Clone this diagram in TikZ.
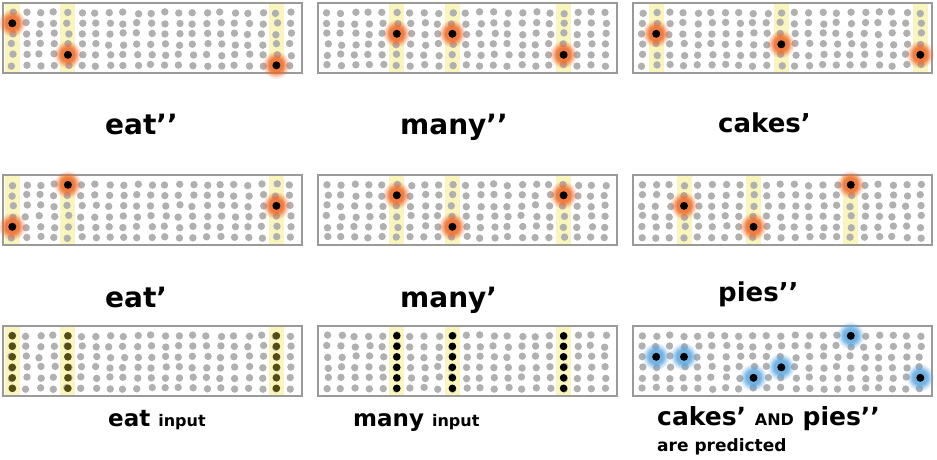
\documentclass[tikz,border=0pt]{standalone}
\usepackage{fontspec}
\setmainfont{DejaVu Sans}
\usetikzlibrary{positioning}
\definecolor{framegray}{HTML}{9A9A9A}
\definecolor{dotgray}{HTML}{B0B0B0}
\definecolor{lemon}{HTML}{FAF5BC}
\definecolor{ember}{HTML}{F06A2C}
\definecolor{skyglow}{HTML}{5BA6E0}
\definecolor{oliveink}{HTML}{544C10}

\begin{document}
\begin{tikzpicture}[x=1pt, y=-1pt,
        word/.style={font=\bfseries\fontsize{28}{30}\selectfont, inner sep=0pt, anchor=base west},
        small/.style={font=\bfseries\fontsize{23}{26}\selectfont, inner sep=0pt, anchor=base west}]
        \useasboundingbox (0,0) rectangle (937,459);
        \pgfmathsetseed{17}

        % highlighted columns of each panel
        \foreach \L/\T/\cols in {3/3/{0,4,19}, 318/3/{5,9,17}, 633/3/{1,10,20},
                                  3/175/{0,4,19}, 318/175/{5,9,17}, 633/175/{3,8,15},
                                  3/326/{0,4,19}, 318/326/{5,9,17}} {
            \foreach \c in \cols {
                \fill[lemon] (\L+9.3+13.9*\c-7.5, \T) rectangle ++(15, 70);
            }
        }

        % frames and grids of dots
        \foreach \L in {3, 318, 633} {
            \foreach \T in {3, 175, 326} {
                \draw[framegray, line width=1.2pt] (\L,\T) rectangle ++(299,70);
                \foreach \c in {0,...,20} {
                    \foreach \r in {0,...,5} {
                        \pgfmathsetmacro\jx{\L+9.3+13.9*\c+1.2*rand}
                        \pgfmathsetmacro\jy{\T+9.8+10.5*\r+1.0*rand}
                        \fill[dotgray] (\jx,\jy) circle (3.7pt);
                    }
                }
            }
        }

        % input columns
        \foreach \c in {0,4,19} {
            \foreach \r in {0,...,5} {
                \fill[oliveink] (3+9.3+13.9*\c, 326+9.8+10.5*\r) circle (3.8pt);
            }
        }
        \foreach \c in {5,9,17} {
            \foreach \r in {0,...,5} {
                \fill (318+9.3+13.9*\c, 326+9.8+10.5*\r) circle (3.8pt);
            }
        }

        % active cells
        \foreach \L/\T/\c/\r/\tone in {3/3/0/1/ember, 3/3/4/4/ember, 3/3/19/5/ember,
                                        318/3/5/2/ember, 318/3/9/2/ember, 318/3/17/4/ember,
                                        633/3/1/2/ember, 633/3/10/3/ember, 633/3/20/4/ember,
                                        3/175/0/4/ember, 3/175/4/0/ember, 3/175/19/2/ember,
                                        318/175/5/1/ember, 318/175/9/4/ember, 318/175/17/1/ember,
                                        633/175/3/2/ember, 633/175/8/4/ember, 633/175/15/0/ember,
                                        633/326/1/2/skyglow, 633/326/3/2/skyglow, 633/326/8/4/skyglow,
                                        633/326/10/3/skyglow, 633/326/15/0/skyglow, 633/326/20/4/skyglow} {
            \foreach \rad/\op in {13.5/0.15, 12/0.2, 10.5/0.3, 9/0.4, 7.5/0.5} {
                \fill[\tone, opacity=\op] (\L+9.3+13.9*\c, \T+9.8+10.5*\r) circle (\rad pt);
            }
            \fill (\L+9.3+13.9*\c, \T+9.8+10.5*\r) circle (4pt);
        }

        % labels
        \node[word] (eatpp) at (105,134) {eat’’};
        \node[word] (manypp) at (400,134) {many’’};
        \node[word, font=\bfseries\fontsize{26}{30}\selectfont] (cakesp) at (718,132) {cakes’};
        \node[word] (eatp) at (105,307) {eat’};
        \node[word] (manyp) at (400,307) {many’};
        \node[word, font=\bfseries\fontsize{26}{30}\selectfont] (piespp) at (718,301) {pies’’};
        \node[small] (eatin) at (108,426) {eat {\fontsize{16}{18}\selectfont input}};
        \node[small] (manyin) at (353,426) {many {\fontsize{16}{18}\selectfont input}};
        \node[small, font=\bfseries\fontsize{25}{28}\selectfont] (both) at (657,425) {cakes’ {\fontsize{16}{18}\selectfont AND} pies’’};
        \node[small, font=\bfseries\fontsize{17}{20}\selectfont] (predict) at (657,451) {are predicted};
    \end{tikzpicture}
\end{document}
